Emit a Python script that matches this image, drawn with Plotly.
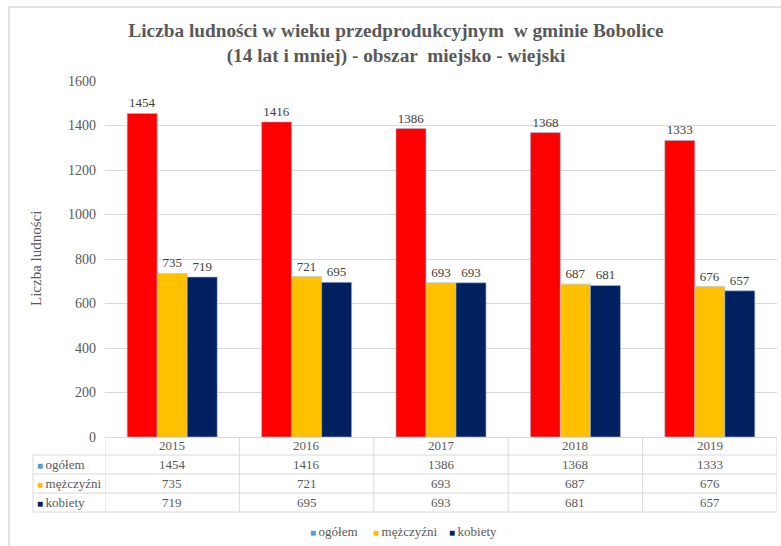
import plotly.graph_objects as go

years = ["2015", "2016", "2017", "2018", "2019"]
ogolem = [1454, 1416, 1386, 1368, 1333]
mezczyzni = [735, 721, 693, 687, 676]
kobiety = [719, 695, 693, 681, 657]

series_names = ["ogółem", "mężczyźni", "kobiety"]
bar_colors = ["#FF0000", "#FFC000", "#002060"]
legend_colors = ["#5B9BD5", "#FFC000", "#002060"]
series_values = [ogolem, mezczyzni, kobiety]

y_ticks = [0, 200, 400, 600, 800, 1000, 1200, 1400, 1600]

FONT = "Liberation Serif"
GRAY = "#595959"
LINE = "#D9D9D9"

W, H = 781, 546
L, R, T, B = 105, 4, 81, 109
PW = W - L - R
PH = H - T - B


def py(pix):
    # pixel y -> paper y
    return (H - B - pix) / PH


def px(pix):
    return (pix - L) / PW


fig = go.Figure()
for name, vals, col in zip(series_names, series_values, bar_colors):
    fig.add_trace(go.Bar(
        x=years, y=vals, name=name,
        marker=dict(color=col, line=dict(color="#A9BEDF", width=0.6)),
        text=vals, textposition="outside", cliponaxis=False,
        textfont=dict(family=FONT, size=13, color="#404040"),
        showlegend=False,
    ))

shapes = []
annotations = []

# outer chart border
shapes.append(dict(type="rect", xref="paper", yref="paper",
                   x0=px(9), x1=px(790), y0=py(560), y1=py(7),
                   line=dict(color=LINE, width=1.5), layer="below"))

# table geometry (pixel rows)
header_top = H - B
row_lines = [455, 474, 493, 512]
row_centers = [446, 464.5, 483.5, 502.5]

# horizontal table lines
for yl in row_lines:
    shapes.append(dict(type="line", xref="paper", yref="paper",
                       x0=px(33), x1=1, y0=py(yl), y1=py(yl),
                       line=dict(color=LINE, width=1)))
# vertical table lines at category boundaries
for k in range(len(years) + 1):
    shapes.append(dict(type="line", xref="x", yref="paper",
                       x0=k - 0.5, x1=k - 0.5, y0=py(512), y1=py(header_top),
                       line=dict(color=LINE, width=1)))
shapes.append(dict(type="line", xref="paper", yref="paper",
                   x0=px(33), x1=px(33), y0=py(512), y1=py(455),
                   line=dict(color=LINE, width=1)))

# header row (years)
for i, yr in enumerate(years):
    annotations.append(dict(x=i, xref="x", y=py(row_centers[0]), yref="paper",
                            text=yr, showarrow=False, yanchor="middle",
                            font=dict(family=FONT, size=13, color=GRAY)))
# data rows
for r, (name, vals, lc) in enumerate(zip(series_names, series_values, legend_colors)):
    yc = py(row_centers[r + 1])
    annotations.append(dict(x=px(35), xref="paper", y=yc, yref="paper",
                            text=f"<span style='color:{lc};font-size:10px'>■ </span>{name}",
                            showarrow=False, xanchor="left", yanchor="middle",
                            font=dict(family=FONT, size=13, color=GRAY)))
    for i, v in enumerate(vals):
        annotations.append(dict(x=i, xref="x", y=yc, yref="paper",
                                text=str(v), showarrow=False, yanchor="middle",
                                font=dict(family=FONT, size=13, color=GRAY)))

# bottom legend
legend_x = [308, 371, 447]
for name, lc, lx in zip(series_names, legend_colors, legend_x):
    annotations.append(dict(x=px(lx), xref="paper", y=py(531), yref="paper",
                            text=f"<span style='color:{lc};font-size:10px'>■ </span>{name}",
                            showarrow=False, xanchor="left", yanchor="middle",
                            font=dict(family=FONT, size=13, color=GRAY)))

# y axis title
annotations.append(dict(x=px(36), xref="paper", y=py(259), yref="paper",
                        text="Liczba ludności", textangle=-90, showarrow=False,
                        xanchor="center", yanchor="middle",
                        font=dict(family=FONT, size=15, color=GRAY)))

fig.update_layout(
    width=W, height=H,
    margin=dict(l=L, r=R, t=T, b=B),
    paper_bgcolor="white", plot_bgcolor="white",
    barmode="group", bargap=0.33, bargroupgap=0,
    title=dict(
        text="<b>Liczba ludności w wieku przedprodukcyjnym  w gminie Bobolice<br>(14 lat i mniej) - obszar  miejsko - wiejski</b>",
        x=396 / W, xanchor="center", y=1 - 37 / H, yanchor="top",
        font=dict(family=FONT, size=19.3, color=GRAY),
    ),
    xaxis=dict(type="category", range=[-0.5, len(years) - 0.5],
               showticklabels=False, showgrid=False, zeroline=False,
               showline=True, linecolor=LINE, linewidth=1, ticks=""),
    yaxis=dict(range=[0, 1600], tickvals=y_ticks, showgrid=True,
               gridcolor=LINE, gridwidth=1, zeroline=False, showline=False,
               ticks="", ticklabelstandoff=8,
               tickfont=dict(family=FONT, size=14, color=GRAY)),
    shapes=shapes, annotations=annotations,
    showlegend=False,
)

fig.write_html("out.html", post_script="document.body.style.margin='0';",
               config={"displayModeBar": False})
